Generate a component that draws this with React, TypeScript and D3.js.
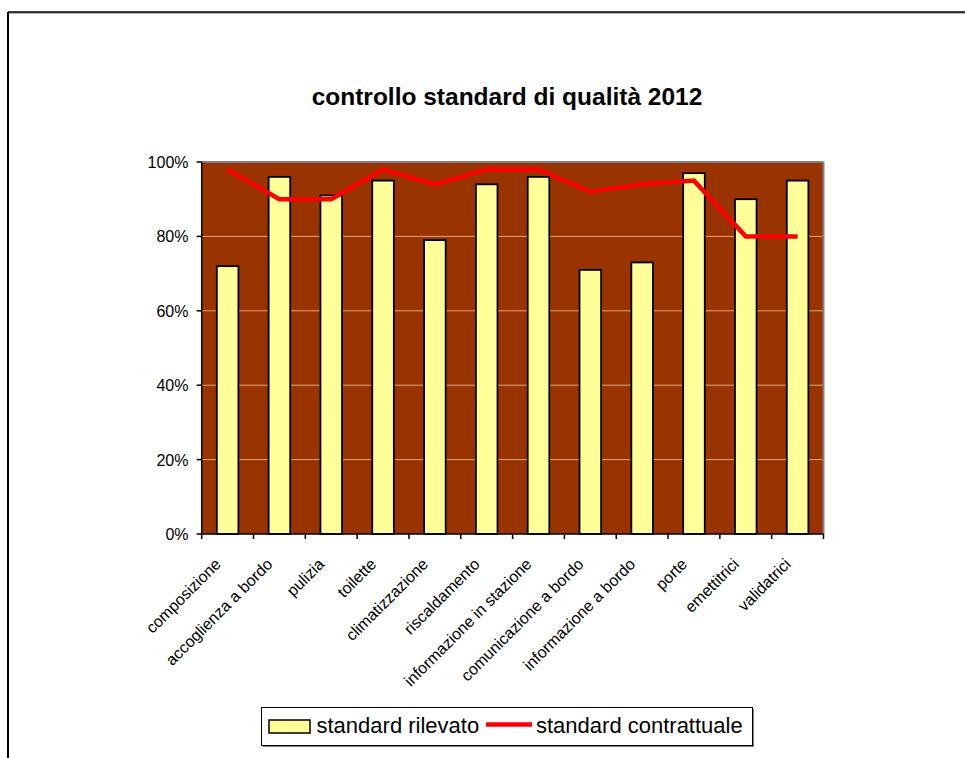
import React from "react";
import * as d3 from "d3";

const categories = [
  "composizione",
  "accoglienza a bordo",
  "pulizia",
  "toilette",
  "climatizzazione",
  "riscaldamento",
  "informazione in stazione",
  "comunicazione a bordo",
  "informazione a bordo",
  "porte",
  "emettitrici",
  "validatrici",
];
const rilevato = [0.72, 0.96, 0.91, 0.95, 0.79, 0.94, 0.96, 0.71, 0.73, 0.97, 0.9, 0.95];
const contrattuale = [0.98, 0.9, 0.9, 0.98, 0.94, 0.98, 0.98, 0.92, 0.94, 0.95, 0.8, 0.8];
const yTicks = [0, 0.2, 0.4, 0.6, 0.8, 1];
const title = "controllo standard di qualità 2012";
const seriesNames = ["standard rilevato", "standard contrattuale"];

const W = 965;
const H = 758;
const plot = { left: 201.7, right: 823.5, top: 162, bottom: 534 };
const font = "Arial, 'Liberation Sans', sans-serif";

export default function App() {
  const x = d3.scaleBand<string>().domain(categories).range([plot.left, plot.right]).padding(0);
  const y = d3.scaleLinear().domain([0, 1]).range([plot.bottom, plot.top]);
  const bw = x.bandwidth() / 2.4;
  const cx = (c: string) => (x(c) as number) + x.bandwidth() / 2;
  const line = d3
    .line<number>()
    .x((_, i) => cx(categories[i]))
    .y((d) => y(d));
  const fmt = d3.format(".0%");

  return (
    <svg
      width={W}
      height={H}
      style={{ position: "absolute", left: 0, top: 0, fontFamily: font }}
    >
      <rect x={0} y={0} width={W} height={H} fill="#fff" />
      {/* outer border */}
      <line x1={8} y1={13} x2={W} y2={13} stroke="#999" strokeWidth={1.5} />
      <line x1={8} y1={12} x2={W} y2={12} stroke="#000" strokeWidth={1.5} />
      <line x1={8} y1={12} x2={8} y2={H} stroke="#000" strokeWidth={2} />

      <text x={507} y={105} textAnchor="middle" fontSize={24.5} fontWeight="bold">
        {title}
      </text>

      {/* plot area */}
      <rect
        x={plot.left}
        y={plot.top}
        width={plot.right - plot.left}
        height={plot.bottom - plot.top}
        fill="#993300"
      />
      {yTicks.slice(1, -1).map((t) => (
        <line
          key={t}
          x1={plot.left}
          x2={plot.right}
          y1={y(t)}
          y2={y(t)}
          stroke="#DDA585"
          strokeWidth={1}
        />
      ))}
      <line x1={plot.left} x2={plot.right} y1={plot.top} y2={plot.top} stroke="#808080" strokeWidth={2} />
      <line x1={plot.right} x2={plot.right} y1={plot.top} y2={plot.bottom} stroke="#808080" strokeWidth={2} />

      {/* bars */}
      {categories.map((c, i) => (
        <rect
          key={c}
          x={cx(c) - bw / 2}
          y={y(rilevato[i])}
          width={bw}
          height={y(0) - y(rilevato[i])}
          fill="#FFFF99"
          stroke="#000"
          strokeWidth={1.8}
        />
      ))}

      {/* line */}
      <path d={line(contrattuale) || ""} fill="none" stroke="#FF0000" strokeWidth={4.5} strokeLinejoin="miter" />

      {/* axes */}
      <line x1={plot.left} x2={plot.left} y1={plot.top} y2={plot.bottom} stroke="#000" strokeWidth={1.5} />
      <line x1={plot.left} x2={plot.right} y1={plot.bottom} y2={plot.bottom} stroke="#000" strokeWidth={1.5} />
      {yTicks.map((t) => (
        <g key={t}>
          <line x1={plot.left - 5} x2={plot.left} y1={y(t)} y2={y(t)} stroke="#000" strokeWidth={1.5} />
          <text x={188.5} y={y(t) + 6} textAnchor="end" fontSize={16}>
            {fmt(t)}
          </text>
        </g>
      ))}
      {[...categories.map((c) => x(c) as number), plot.right].map((v, i) => (
        <line key={i} x1={v} x2={v} y1={plot.bottom} y2={plot.bottom + 5} stroke="#000" strokeWidth={1.5} />
      ))}
      {categories.map((c) => (
        <text
          key={c}
          transform={`translate(${cx(c) - 14},${plot.bottom + 23}) rotate(-45)`}
          textAnchor="end"
          dy="0.72em"
          fontSize={16}
        >
          {c}
        </text>
      ))}

      {/* legend */}
      <rect x={263} y={709} width={491} height={38} fill="#808080" />
      <rect x={261.5} y={707.5} width={491} height={38} fill="#fff" stroke="#000" strokeWidth={1} />
      <rect x={269} y={720} width={41} height={13} fill="#FFFF99" stroke="#000" strokeWidth={1.5} />
      <text x={316.5} y={733} fontSize={22}>
        {seriesNames[0]}
      </text>
      <line x1={486} x2={532} y1={724.5} y2={724.5} stroke="#FF0000" strokeWidth={4.5} />
      <text x={536} y={733} fontSize={22}>
        {seriesNames[1]}
      </text>
    </svg>
  );
}
